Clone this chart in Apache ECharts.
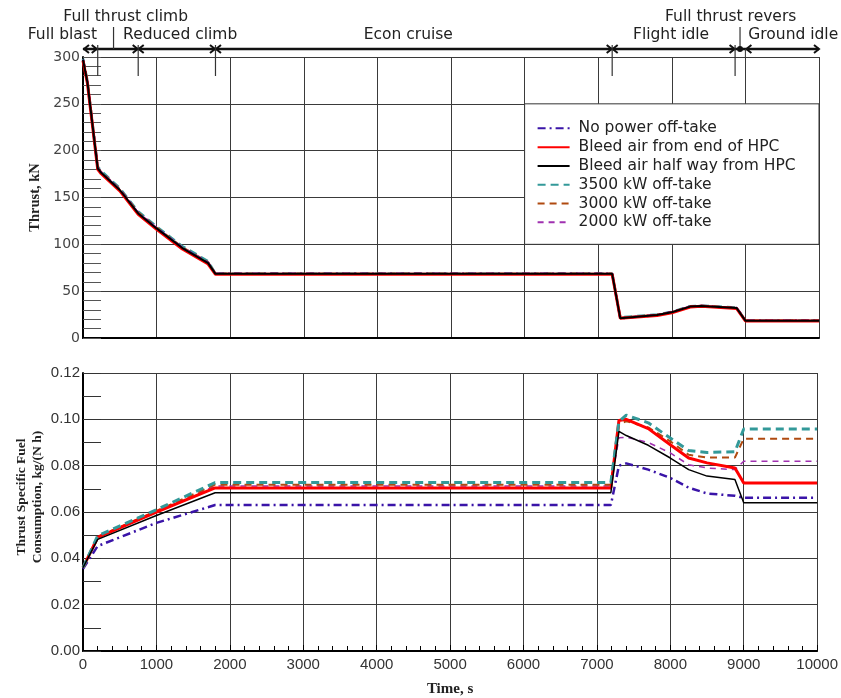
<!DOCTYPE html>
<html>
<head>
<meta charset="utf-8">
<script src="https://cdn.jsdelivr.net/npm/echarts@6/dist/echarts.min.js"></script>
<style>
  html, body { margin: 0; padding: 0; background: #fff; }
  #chart { width: 841px; height: 698px; }
</style>
</head>
<body>
<div id="chart"></div>
<script>
// ---- Series names (legend order) ----
const seriesNames = [
  'No power off-take',
  'Bleed air from end of HPC',
  'Bleed air half way from HPC',
  '3500 kW off-take',
  '3000 kW off-take',
  '2000 kW off-take'
];

// ---- Thrust, kN ----
const thrustTime = [0, 60, 200, 240, 500, 750, 1000, 1350, 1700, 1800, 7190, 7300, 7800, 8000, 8250, 8400, 8880, 9000, 10000];
const thrustNoPower   = [297, 273, 181, 177, 158, 133, 117, 96, 80, 68.5, 68.5, 21, 24.5, 27.5, 33.5, 34.2, 32.0, 18.5, 18.5];
const thrustBleedEnd  = [296, 272, 180, 176, 157, 132, 116, 95, 79, 68.0, 68.0, 21, 24.0, 27.0, 33.0, 34.0, 31.5, 18.2, 18.2];
const thrustBleedHalf = [297, 273, 181, 177, 158, 133, 117, 96, 80, 68.5, 68.5, 21, 24.5, 27.5, 33.5, 34.2, 32.0, 18.5, 18.5];
const thrust3500      = [298, 275, 183, 179, 160, 135, 119, 98, 82, 68.7, 68.7, 22, 25.0, 28.0, 34.0, 34.5, 32.5, 18.8, 18.8];
const thrust3000      = [297, 274, 182, 178, 159, 134, 118, 97, 81, 68.6, 68.6, 21.5, 24.8, 27.8, 33.8, 34.4, 32.3, 18.7, 18.7];
const thrust2000      = [297, 274, 182, 178, 159, 134, 118, 97, 81, 68.6, 68.6, 21.3, 24.7, 27.7, 33.7, 34.3, 32.2, 18.6, 18.6];

// ---- Thrust specific fuel consumption, kg/(N h) ----
const tsfcTime = [0, 200, 1000, 1800, 7190, 7300, 7400, 7700, 8000, 8250, 8500, 8880, 9000, 10000];
const tsfcNoPower   = [0.0355, 0.0453, 0.0553, 0.0630, 0.0630, 0.0800, 0.0810, 0.0783, 0.0747, 0.0705, 0.0680, 0.0670, 0.0661, 0.0661];
const tsfcBleedEnd  = [0.0360, 0.0490, 0.0600, 0.0704, 0.0704, 0.0995, 0.1000, 0.0960, 0.0890, 0.0833, 0.0812, 0.0790, 0.0725, 0.0725];
const tsfcBleedHalf = [0.0360, 0.0482, 0.0585, 0.0683, 0.0683, 0.0948, 0.0930, 0.0888, 0.0833, 0.0783, 0.0755, 0.0740, 0.0640, 0.0640];
const tsfc3500      = [0.0360, 0.0497, 0.0610, 0.0727, 0.0727, 0.0990, 0.1018, 0.0985, 0.0919, 0.0865, 0.0857, 0.0860, 0.0958, 0.0958];
const tsfc3000      = [0.0360, 0.0493, 0.0605, 0.0718, 0.0718, 0.0975, 0.0992, 0.0965, 0.0905, 0.0847, 0.0835, 0.0835, 0.0916, 0.0916];
const tsfc2000      = [0.0360, 0.0490, 0.0600, 0.0712, 0.0712, 0.0920, 0.0923, 0.0900, 0.0855, 0.0804, 0.0790, 0.0783, 0.0819, 0.0819];

// ---- Mission phases (s) ----
const phaseBounds = [0, 200, 750, 1800, 7190, 8860, 9000, 10000];
const phaseLabels = ['Full blast', 'Full thrust climb', 'Reduced climb', 'Econ cruise', 'Flight idle', 'Full thrust revers', 'Ground idle'];
const phaseLabelTime = [-280, 580, 1320, 4420, 7990, 8800, 9650];
const phaseLabelRow = [0, 1, 0, 0, 0, 1, 0];          // 1 = upper row with pointer
const phasePointerTime = [null, 415, null, null, null, 8927, null];
const reverseThrustTime = 8927;

// ---- Tick values ----
const thrustTicks = { min: 0, max: 300, step: 50 };
const tsfcTicks = { min: 0, max: 0.12, step: 0.02 };
const timeTicks = { min: 0, max: 10000, step: 1000 };

// ---- styling ----
const styleFor = {
  'No power off-take':           { color: '#3a14a8', width: 2.5, type: [8, 4, 2, 4] },
  '2000 kW off-take':            { color: '#a030b0', width: 1.5, type: [6, 5] },
  '3000 kW off-take':            { color: '#b04a10', width: 2, type: [7, 5] },
  'Bleed air from end of HPC':   { color: '#ff0000', width: 3, type: 'solid' },
  '3500 kW off-take':            { color: '#339999', width: 3, type: [8, 5] },
  'Bleed air half way from HPC': { color: '#000000', width: 1.5, type: 'solid' }
};
// upper plot: black drawn last so the overlapping curves read dark
const drawOrderThrust = ['3500 kW off-take', '3000 kW off-take', '2000 kW off-take',
  'No power off-take', 'Bleed air from end of HPC', 'Bleed air half way from HPC'];
const drawOrderTsfc = ['No power off-take', '2000 kW off-take', '3000 kW off-take',
  'Bleed air from end of HPC', '3500 kW off-take', 'Bleed air half way from HPC'];

const thrustByName = {
  'No power off-take': thrustNoPower,
  'Bleed air from end of HPC': thrustBleedEnd,
  'Bleed air half way from HPC': thrustBleedHalf,
  '3500 kW off-take': thrust3500,
  '3000 kW off-take': thrust3000,
  '2000 kW off-take': thrust2000
};
const tsfcByName = {
  'No power off-take': tsfcNoPower,
  'Bleed air from end of HPC': tsfcBleedEnd,
  'Bleed air half way from HPC': tsfcBleedHalf,
  '3500 kW off-take': tsfc3500,
  '3000 kW off-take': tsfc3000,
  '2000 kW off-take': tsfc2000
};

const pairs = (xs, ys) => xs.map((x, i) => [x, ys[i]]);

function lineSeries(name, idx, xs, ys, widthOverride) {
  const s = styleFor[name];
  return {
    name, type: 'line', xAxisIndex: idx, yAxisIndex: idx,
    data: pairs(xs, ys), symbol: 'none', showSymbol: false, smooth: false,
    lineStyle: { color: s.color, width: widthOverride || s.width, type: s.type, cap: 'butt' },
    itemStyle: { color: s.color },
    emphasis: { disabled: true }
  };
}

const series = [];
drawOrderThrust.forEach(n => series.push(lineSeries(n, 0, thrustTime, thrustByName[n],
  n === 'Bleed air half way from HPC' ? 2 : (n === '3500 kW off-take' ? 2.5 : null))));
drawOrderTsfc.forEach(n => series.push(lineSeries(n, 1, tsfcTime, tsfcByName[n])));

const gridLineStyle = { color: '#3a3a3a', width: 1 };
const sansTick = 'Liberation Sans, Arial, sans-serif';
const verdanaLike = 'DejaVu Sans, Verdana, sans-serif';
const serifBold = 'Liberation Serif, Times New Roman, serif';

const option = {
  animation: false,
  backgroundColor: '#ffffff',
  grid: [
    { left: 83, right: 22, top: 57, height: 281 },
    { left: 83, right: 22, top: 373, height: 279 }
  ],
  xAxis: [
    {
      gridIndex: 0, type: 'value', min: timeTicks.min, max: timeTicks.max, interval: timeTicks.step,
      axisLine: { show: true, onZero: false, lineStyle: { color: '#000', width: 2 } },
      axisTick: { show: false }, axisLabel: { show: false },
      splitLine: { show: true, lineStyle: gridLineStyle }
    },
    {
      gridIndex: 1, type: 'value', min: timeTicks.min, max: timeTicks.max, interval: timeTicks.step,
      name: 'Time, s', nameLocation: 'middle', nameGap: 31,
      nameTextStyle: { fontFamily: serifBold, fontWeight: 'bold', fontSize: 15, color: '#222' },
      axisLine: { show: true, onZero: false, lineStyle: { color: '#000', width: 2 } },
      axisTick: { show: true, inside: true, length: 6, lineStyle: { color: '#000' } },
      minorTick: { show: true, splitNumber: 5, length: 5, lineStyle: { color: '#000', width: 1 } },
      axisLabel: { fontFamily: sansTick, fontSize: 15, color: '#333', margin: 6,
        formatter: v => String(v) },
      splitLine: { show: true, lineStyle: gridLineStyle }
    }
  ],
  yAxis: [
    {
      gridIndex: 0, type: 'value', min: thrustTicks.min, max: thrustTicks.max, interval: thrustTicks.step,
      name: 'Thrust, kN', nameLocation: 'middle', nameGap: 40, nameRotate: 90,
      nameTextStyle: { fontFamily: serifBold, fontWeight: 'bold', fontSize: 14.5, color: '#222' },
      axisLine: { show: true, lineStyle: { color: '#000', width: 2 } },
      axisTick: { show: true, inside: true, length: 18, lineStyle: { color: '#555' } },
      minorTick: { show: true, splitNumber: 5, length: 18, lineStyle: { color: '#555', width: 1 } },
      axisLabel: { fontFamily: verdanaLike, fontSize: 14, color: '#444', margin: 3 },
      splitLine: { show: true, lineStyle: gridLineStyle }
    },
    {
      gridIndex: 1, type: 'value', min: tsfcTicks.min, max: tsfcTicks.max, interval: tsfcTicks.step,
      axisLine: { show: true, lineStyle: { color: '#000', width: 2 } },
      axisTick: { show: true, inside: true, length: 18, lineStyle: { color: '#333' } },
      minorTick: { show: true, splitNumber: 2, length: 18, lineStyle: { color: '#333', width: 1 } },
      axisLabel: { fontFamily: sansTick, fontSize: 15, color: '#333', margin: 3,
        formatter: v => v.toFixed(2) },
      splitLine: { show: true, lineStyle: gridLineStyle }
    }
  ],
  series
};

const chart = echarts.init(document.getElementById('chart'), null, { renderer: 'canvas' });
chart.setOption(option);

// ---- Phase annotation band, legend frame, lower axis title ----
const px = t => chart.convertToPixel({ xAxisIndex: 0 }, t);
const py = v => chart.convertToPixel({ yAxisIndex: 0 }, v);
const plotTop = py(thrustTicks.max);
const arrowY = plotTop - 8;
const ink = '#111';
const g = [];

// main arrow line
g.push({ type: 'line', z: 20, shape: { x1: px(0), y1: arrowY, x2: px(10000), y2: arrowY },
  style: { stroke: ink, lineWidth: 2.5 } });

const headR = (x) => ({ type: 'polyline', z: 20,
  shape: { points: [[x - 5, arrowY - 4], [x, arrowY], [x - 5, arrowY + 4]] },
  style: { stroke: ink, lineWidth: 2, fill: null } });
const headL = (x) => ({ type: 'polyline', z: 20,
  shape: { points: [[x + 5, arrowY - 4], [x, arrowY], [x + 5, arrowY + 4]] },
  style: { stroke: ink, lineWidth: 2, fill: null } });
const vtick = (x, y1, y2, w) => ({ type: 'line', z: 20,
  shape: { x1: x, y1, x2: x, y2 }, style: { stroke: '#333', lineWidth: w || 1.2 } });

// full blast double arrow
g.push(headL(px(phaseBounds[0]) + 1));
g.push(headR(px(phaseBounds[1]) - 1));
g.push(vtick(px(phaseBounds[1]), arrowY - 4, arrowY + 27));
// boundaries with facing heads
[phaseBounds[2], phaseBounds[3], phaseBounds[4]].forEach(t => {
  const x = px(t);
  g.push(headR(x - 0.5)); g.push(headL(x + 0.5));
  g.push(vtick(x, arrowY - 4, arrowY + 27));
});
// flight idle end, reverse thrust dot, ground idle start
g.push(headR(px(phaseBounds[5]) - 0.5));
g.push(vtick(px(phaseBounds[5]), arrowY - 4, arrowY + 27));
g.push({ type: 'circle', z: 21, shape: { cx: px(reverseThrustTime), cy: arrowY, r: 3 }, style: { fill: ink } });
g.push(headL(px(phaseBounds[6]) + 1));
g.push(vtick(px(phaseBounds[6]), arrowY, plotTop, 1));
g.push(headR(px(phaseBounds[7])));

// labels and pointers
phaseLabels.forEach((txt, i) => {
  const upper = phaseLabelRow[i] === 1;
  const y = upper ? arrowY - 32 : arrowY - 14;
  g.push({ type: 'text', z: 22,
    style: { text: txt, x: px(phaseLabelTime[i]), y,
      font: '15.5px "DejaVu Sans", Verdana, sans-serif', fill: '#222',
      textAlign: 'center', textVerticalAlign: 'middle', align: 'center', verticalAlign: 'middle' } });
  if (phasePointerTime[i] !== null) {
    g.push(vtick(px(phasePointerTime[i]), arrowY - 22, arrowY, 1.2));
  }
});

// legend frame over the upper plot
const boxX1 = px(6000), boxX2 = px(10000), boxY1 = py(250), boxY2 = py(100);
g.push({ type: 'rect', z: 8, shape: { x: boxX1, y: boxY1, width: boxX2 - boxX1, height: boxY2 - boxY1 },
  style: { fill: '#fff', stroke: '#333', lineWidth: 1 } });

// lower plot y-axis title (two lines, rotated)
const lowerLeft = chart.convertToPixel({ xAxisIndex: 1 }, 0);
const lowerMid = (chart.convertToPixel({ yAxisIndex: 1 }, tsfcTicks.max) +
                  chart.convertToPixel({ yAxisIndex: 1 }, tsfcTicks.min)) / 2;
g.push({ type: 'text', z: 22, x: lowerLeft - 53, y: lowerMid - 15, rotation: Math.PI / 2,
  style: { text: 'Thrust Specific Fuel\nConsumption, kg/(N h)',
    font: 'bold 13.5px "Liberation Serif", "Times New Roman", serif', fill: '#222', lineHeight: 16,
    textAlign: 'center', textVerticalAlign: 'middle', align: 'center', verticalAlign: 'middle' } });

chart.setOption({
  graphic: g,
  legend: {
    data: seriesNames, orient: 'vertical', z: 10,
    left: boxX1 + 12, top: boxY1 + 16.5,
    padding: 0, itemWidth: 32, itemHeight: 14, itemGap: 2.8,
    selectedMode: false,
    itemStyle: { opacity: 0 },
    textStyle: { fontFamily: verdanaLike, fontSize: 15.5, color: '#222', lineHeight: 16, padding: [0, 0, 0, 4] }
  }
});
</script>
</body>
</html>
